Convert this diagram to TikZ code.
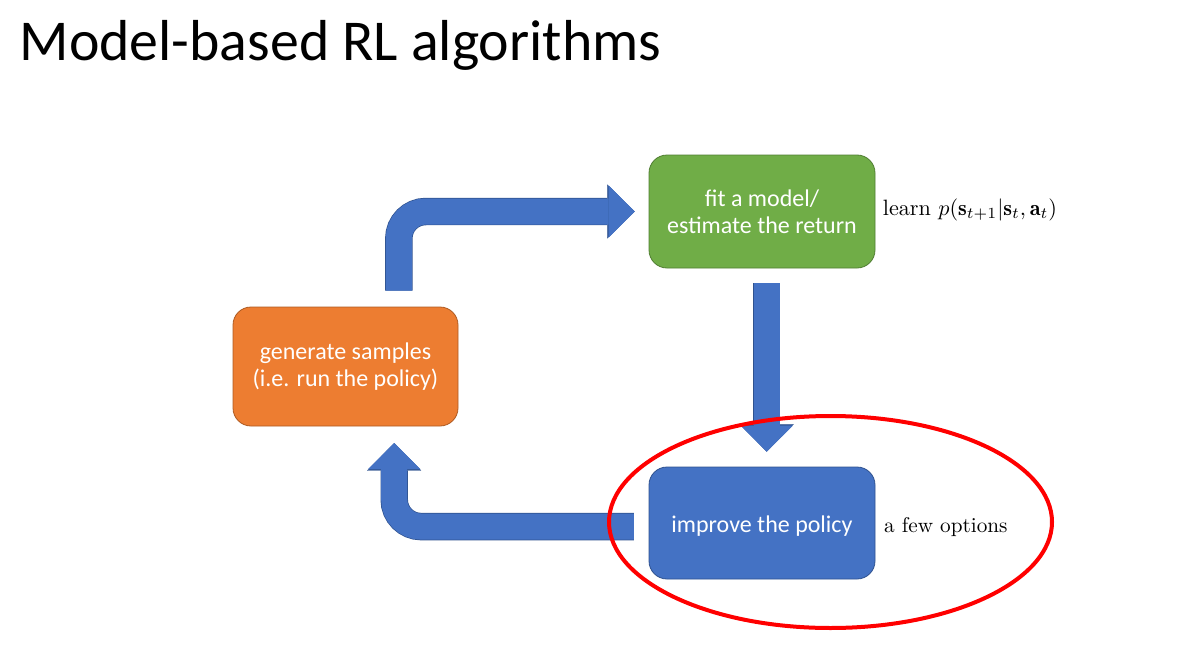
\documentclass[tikz,border=0pt]{standalone}
\usepackage{fontspec}
\usepackage{amsmath}
\usetikzlibrary{arrows.meta}
\newfontfamily\slidefont{Carlito}
\definecolor{boxblue}{RGB}{68,114,196}
\definecolor{edgeblue}{RGB}{47,82,143}
\definecolor{boxgreen}{RGB}{112,173,71}
\definecolor{edgegreen}{RGB}{80,126,50}
\definecolor{boxorange}{RGB}{237,125,49}
\definecolor{edgeorange}{RGB}{174,90,33}
\tikzset{
  stepbox/.style={rounded corners=18pt, minimum width=226pt, minimum height=113pt, inner sep=0pt,
    line width=0.8pt, text=white, align=center, font=\slidefont\fontsize{24}{26.7}\selectfont,
    execute at begin node={\rule{0pt}{23pt}}},
  blockarrow/.style={draw=boxblue, line width=26pt, rounded corners=27pt,
    -{Triangle[width=52pt,length=26pt,fill=boxblue,color=boxblue,line width=0.1pt]},
    preaction={draw=edgeblue, line width=27.4pt, -{Triangle[width=54pt,length=27.4pt,color=edgeblue,fill=edgeblue,line width=0.1pt]}}},
  sidenote/.style={anchor=base west, inner sep=0pt, xscale=#1, yscale=-#1, transform shape},
  sidenote/.default=2.124,
}
\begin{document}
\begin{tikzpicture}[x=1pt,y=1pt,yscale=-1,xscale=1]
\useasboundingbox (0,0) rectangle (1188,658);

% Text Node
\node [anchor=base west, inner sep=0pt, font=\slidefont\fontsize{57.8}{64}\selectfont] (title) at (19.5,61) {Model-based RL algorithms};

%Shape: Rounded Rect
\node [stepbox, fill=boxgreen, draw=edgegreen] (fit) at (762,211.5) {fit a model/\\estimate the return};
%Shape: Rounded Rect
\node [stepbox, fill=boxorange, draw=edgeorange, minimum width=225pt, minimum height=119pt] (gen) at (345.5,366.5) {generate samples\\(i.e. run the policy)};
%Shape: Rounded Rect
\node [stepbox, fill=boxblue, draw=edgeblue, minimum height=112pt] (imp) at (762,523) {improve the policy};

%Block Arrows
\draw [blockarrow, shorten <=16pt, shorten >=14pt] ([xshift=53.3pt]gen.north) |- (fit.west);
\draw [blockarrow, shorten <=14.7pt, shorten >=15pt] ([xshift=4.7pt]fit.south) -- ([xshift=4.7pt]imp.north);
\draw [blockarrow, shorten <=14.7pt, shorten >=16.7pt] ([yshift=3.6pt]imp.west) -| ([xshift=48.7pt]gen.south);

% Text Node
\node [sidenote=2.22] (learn) at ([xshift=7pt,yshift=3.5pt]fit.east) {learn $p(\mathbf{s}_{t+1}|\mathbf{s}_t,\mathbf{a}_t)$};
% Text Node
\node [sidenote] (opts) at ([xshift=8.3pt,yshift=9.3pt]imp.east) {a few options};

%Shape: Ellipse
\draw [red, line width=4pt] (830.5,522) ellipse [x radius=221.5, y radius=106];

\end{tikzpicture}
\end{document}
